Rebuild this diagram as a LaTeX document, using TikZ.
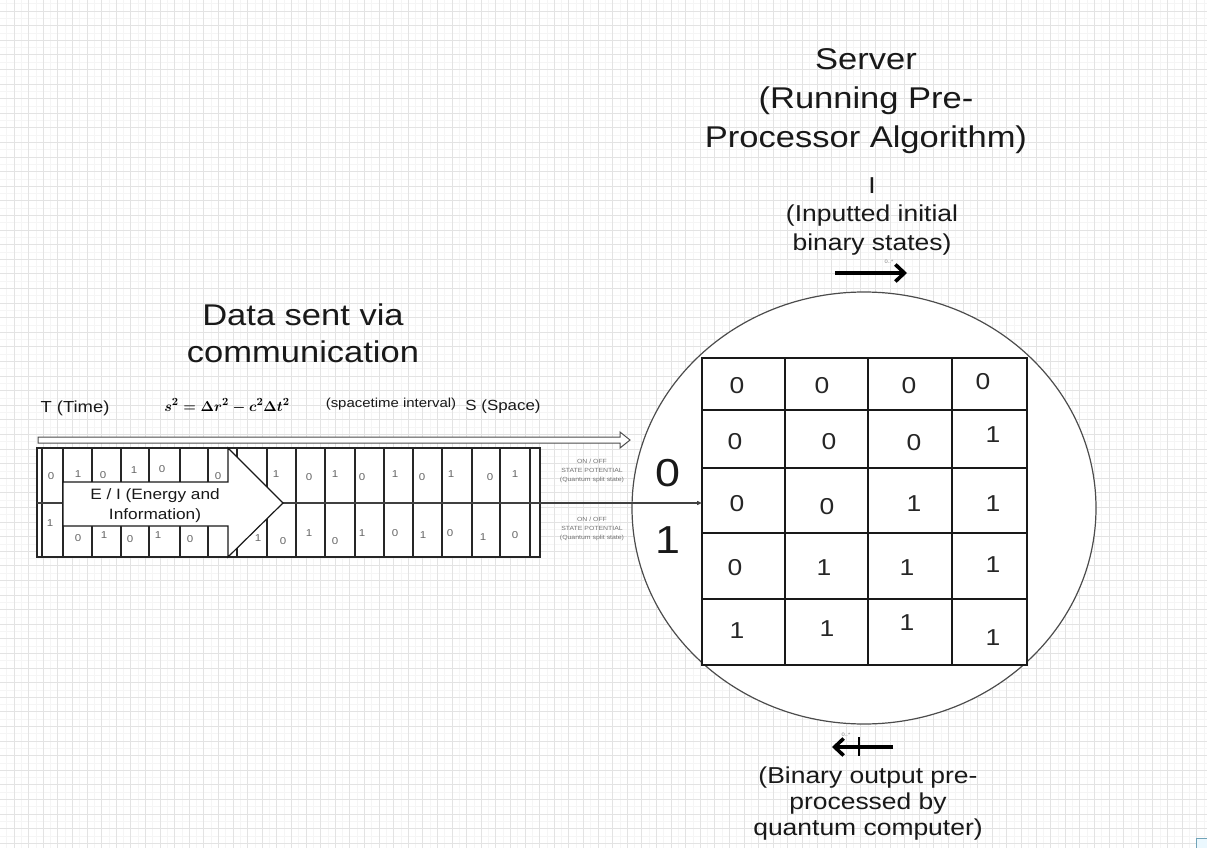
\documentclass[tikz,border=0pt]{standalone}
\usepackage[no-math]{fontspec}
\setmainfont{Liberation Sans}[FakeStretch=1.15]
\usetikzlibrary{arrows.meta}
\newcommand\fs[2]{\fontsize{#1}{#2}\selectfont}
\newsavebox\formbox
\tikzset{
  bgmin/.style={draw=black!4, line width=0.5pt},
  bgmaj/.style={draw=black!11, line width=0.7pt},
  tape/.style={draw=black!85, line width=1.3pt},
  tdig/.style={font=\fs{10}{12}, text=black!60, inner sep=0pt},
  gdig/.style={font=\fs{23}{27}, text=black!85, inner sep=0pt},
  txt/.style={align=center, inner sep=0pt, text=black!90},
  tinytxt/.style={align=center, inner sep=0pt, font=\fs{6}{8.6}, text=black!55},
  mult/.style={inner sep=0pt, font=\fs{5}{6}, text=black!50},
  bigarrow/.style={line width=3.8pt, -{Straight Barb[length=9pt,width=17pt,line width=3.6pt]}},
}
\begin{document}
\sbox\formbox{\fs{15}{18}\boldmath$s^2=\Delta r^2-c^2\Delta t^2$}%
\begin{tikzpicture}[x=1pt,y=-1pt]
\fill[white] (0,0) rectangle (1207,848);
\useasboundingbox (0,0) rectangle (1207,848);
% background grid
\foreach \i in {0,...,83} \draw[bgmin] ({6.7+14.6*\i},0) -- ({6.7+14.6*\i},848);
\foreach \j in {0,...,58} \draw[bgmin] (0,{3.7+14.6*\j}) -- (1207,{3.7+14.6*\j});
\foreach \i in {0,...,82} \draw[bgmaj] ({14+14.6*\i},0) -- ({14+14.6*\i},848);
\foreach \j in {0,...,57} \draw[bgmaj] (0,{11+14.6*\j}) -- (1207,{11+14.6*\j});
% server circle
\draw[draw=black!70, fill=white, line width=1.2pt] (864,508) ellipse [x radius=232pt, y radius=216pt];
% matrix
\draw[draw=black!90, fill=white, line width=1.5pt] (702,358) rectangle (1027,665);
\foreach \x in {785,868,952} \draw[draw=black!90, line width=1.5pt] (\x,358) -- (\x,665);
\foreach \y in {410,468,533,599} \draw[draw=black!90, line width=1.5pt] (702,\y) -- (1027,\y);
\foreach \x/\y/\t [count=\k] in {737/386/0,822/386/0,909/386/0,983/382/0,
  735/442/0,829/442/0,914/443/0,993/435/1,
  737/504/0,827/507/0,914/504/1,993/504/1,
  735/568/0,824/568/1,907/568/1,993/565/1,
  737/631/1,827/629/1,907/623/1,993/638/1}
  \node[gdig] (g\k) at (\x,\y) {\t};
% tape
\draw[tape, fill=white] (37,448) rectangle (540,557);
\draw[tape] (42,448) -- (42,557);
\draw[tape] (63,448) -- (63,557);
\foreach \x in {92,121,149,180,208} {\draw[tape] (\x,448) -- (\x,482); \draw[tape] (\x,526) -- (\x,557);}
\foreach \x in {237,267,296,325,355,384,413,442,472,500,530} \draw[tape] (\x,448) -- (\x,557);
\foreach \x/\y/\t [count=\k] in {51/476/0,78/474/1,103/475/0,134/470/1,162/469/0,218/476/0,
  50/523/1,78/538/0,104/535/1,130/539/0,158/535/1,190/539/0,
  276/474/1,309/477/0,335/474/1,362/477/0,395/474/1,422/477/0,451/474/1,490/477/0,515/474/1,
  258/538/1,283/541/0,309/533/1,335/541/0,362/533/1,395/533/0,423/535/1,450/533/0,483/537/1,515/535/0}
  \node[tdig] (t\k) at (\x,\y) {\t};
% matrix target and connector
\coordinate (tapein) at (37,503);
\coordinate (gridin) at (702,503);
\draw[draw=black!75, line width=1.3pt, -{Triangle[length=5pt,width=4pt]}] (tapein) -- (gridin);
% E / I arrow
\draw[draw=black!90, fill=white, line width=1.2pt] (63,482) -- (228,482) -- (228,448) -- (283,503) -- (228,557) -- (228,526) -- (63,526) -- cycle;
\node[txt, font=\fs{15}{20}] (ei) at (155,506) {E / I (Energy and\\Information)};
% hollow time/space arrow
\draw[draw=black!70, fill=white, line width=1pt] (38,437) -- (620,437) -- (620,432) -- (630,440) -- (620,448) -- (620,443) -- (38,443) -- cycle;
% labels above the tape
\node[txt, font=\fs{16}{18}] (time) at (75,408) {T (Time)};
\node[inner sep=0pt] (formula) at (227,406) {\usebox\formbox};
\node[txt, font=\fs{13}{15}] (sti) at (391,404) {(spacetime interval)};
\node[txt, font=\fs{14.7}{17}] (space) at (503,407) {S (Space)};
\node[txt, font=\fs{30}{37}] (data) at (303,333) {Data sent via\\communication};
% state labels
\node[tinytxt] (st1) at (592,471) {ON / OFF\\STATE POTENTIAL\\(Quantum split state)};
\node[tinytxt] (st2) at (592,529) {ON / OFF\\STATE POTENTIAL\\(Quantum split state)};
\node[txt, font=\fs{39}{44}] (b0) at (668,473) {0};
\node[txt, font=\fs{39}{44}] (b1) at (668,540) {1};
% server text
\node[txt, font=\fs{30}{39}] (server) at (866,101) {Server\\(Running Pre-\\Processor Algorithm)};
\node[txt, font=\fs{23}{28.5}] (inp) at (872,216) {I\\(Inputted initial\\binary states)};
\node[txt, font=\fs{23}{26}] (outp) at (868,804) {(Binary output pre-\\processed by\\quantum computer)};
% in / out arrows
\coordinate (ia) at (835,273); \coordinate (ib) at (907,273);
\draw[bigarrow] (ia) -- (ib);
\node[mult] (m1) at (889,262) {0..*};
\coordinate (oa) at (893,747); \coordinate (ob) at (832,747);
\draw[bigarrow] (oa) -- (ob);
\coordinate (tka) at (859,737); \coordinate (tkb) at (859,756);
\draw[line width=1.8pt] (tka) -- (tkb);
\node[mult] (m2) at (846,735) {0..*};
% corner mark
\draw[draw=cyan!40!gray, fill=cyan!8, line width=0.8pt] (1196,838) rectangle (1208,849);
\end{tikzpicture}
\end{document}
